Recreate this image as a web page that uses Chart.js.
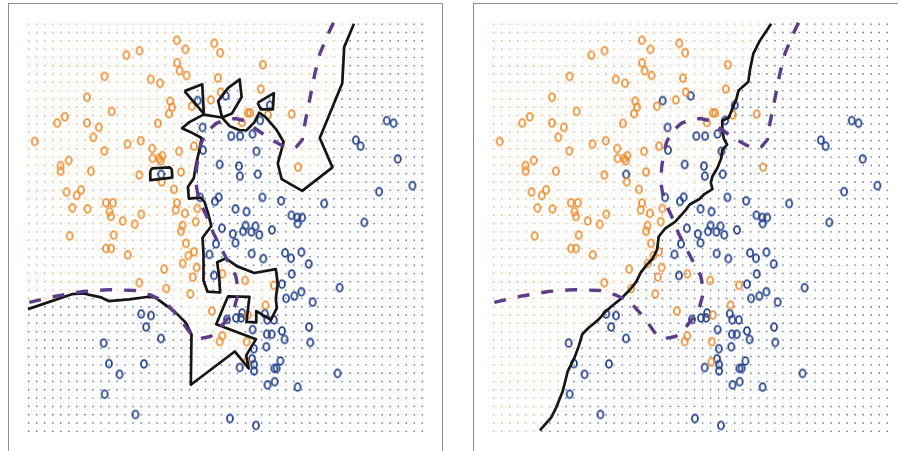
<!DOCTYPE html>
<html>
<head>
<meta charset="utf-8">
<script src="https://cdn.jsdelivr.net/npm/chart.js@4.4.0/dist/chart.umd.min.js"></script>
<style>
  html, body { margin: 0; padding: 0; background: #fff; overflow: hidden; }
  body { width: 898px; height: 451px; position: relative; }
  .panel { position: absolute; top: 3px; width: 433px; height: 449px; border: 1px solid #8c8c8c; }
  #panelLeft { left: 8px; }
  #panelRight { left: 473px; }
  canvas { position: absolute; left: 0; top: 0; }
</style>
</head>
<body>
<div class="panel" id="panelLeft"><canvas id="chartLeft" width="433" height="448"></canvas></div>
<div class="panel" id="panelRight"><canvas id="chartRight" width="433" height="448"></canvas></div>
<script>
// training observations (same in both panels)
const orangeX = [151.7,160.5,190,196,113.5,100,152,154.5,161.7,239.7,77.7,125,134.5,193.7,59.7,237.7,196.7,145,146.8,143.7,
  167,186.5,85,37,29.3,59.7,71.8,66.2,132.3,224.3,226.7,245,269.3,218.2,6.2,101.2,114.8,77.5,126.5,137,
  133.5,135.2,154,169.3,126.8,41,32.6,32.7,63.7,113.3,156,136.3,275.8,38.8,53.7,49.2,44.8,60.2,79,86.2,
  82.8,84.2,115.3,148.7,151.8,150.5,160,172.7,96.3,108.5,171,157.5,156,42,87,79.2,84.3,101.5,161,169.3,
  163.5,157.7,172,138.8,168,113.3,140.8,165.5,187.5,198.3,221.7,251.2,242.5,224.3,198.2,195.5,223.2,222.8];
const orangeY = [400,390.7,397,387.3,389.3,384.7,377,368.8,364,375,363,360,356,361.3,341.7,350,347,337.7,331.5,325,
  332.5,339,327.2,321.7,315.3,315.5,311,300.7,315,325.7,325.7,323.7,324.5,316,296.5,293.8,297.2,286.7,289.3,282,
  279.2,276.7,286.5,291.7,279.2,277.2,271.8,266,266,262.2,265.2,255.2,270.2,244.7,247,241.2,228.5,227.5,233.7,233.7,
  224.7,219.8,222,247.5,233.5,226.5,223,228,215.2,211.8,214.5,210.5,204.7,200,200.7,187,187,180.5,192.2,183.7,
  179.7,171.7,167.7,166,157.7,152,146,140.5,123,161.2,154.3,149.3,129,119,97.7,91.8,91.8,70.7];
const blueX = [173,201.7,246.8,178,237,207.5,216.5,229.2,178.5,233.2,195.5,215.2,216.2,234.5,135.7,366.5,373.5,335,339.8,377.8,
  392.8,358.7,302.5,258.5,239.3,175.5,194.5,190.7,211.8,223,269,275,280,275.3,343.6,222,232.2,197.8,209,219.5,
  228,236,249,211.7,185,191.8,228.3,240.2,262.5,268.5,279.2,286.7,189.7,269.3,259.3,263.5,272,279.2,290.7,318.3,
  203,212.3,217.5,218.5,241.7,244.3,251,229.3,243.8,248.8,259.3,262,287,288.3,230.5,243.3,228.7,230.8,230.8,216,
  257.7,251.5,253.8,244.5,251.8,275.3,316.2,206,232.7,115.2,125.2,120.3,135.5,76.8,82.2,93,118,77.8,109.3];
const blueY = [338.3,343.2,333.5,310.8,318,302,302,304.2,287.6,286.4,273,271.3,261,263,262.8,317.8,315.2,297.8,291.7,278.7,
  251.3,245.2,233,235.8,239.3,239.3,239.5,235.2,227.5,224.7,221,218.7,218.8,212.5,213.7,210.5,209.8,207.7,201.8,204.5,
  204,201,206,192.8,181,191.7,181.8,176.7,182.5,177,183.3,171.2,159.5,161,150.5,136,138.3,142.8,132.2,147,
  114.5,116,116,121,120.3,114,114,104,99.3,99.3,102.7,94,106.7,91,84.5,86.5,74.3,68.3,61.7,65.3,
  72,64.3,64.5,47.5,50.8,45.3,59.3,13.2,6,120,118.5,106.7,95,90.3,69.3,58.3,69,38,17.3];

// KNN K=1 boundary (left panel): main path and closed islands
const knn1Path = [[-0.7,125],[44.3,140.3],[56,141],[74.3,137],[82,133.3],[102.7,135],[122.7,137.7],[129.3,137],[149.3,122.7],[161,111],
  [166.7,99.3],[166,47.7],[211,81.7],[225.3,64.3],[222.7,77.7],[232.7,94.3],[192,109.5],[204,138],[226,137.5],[223,112],
  [233,111.5],[233,123],[248,114],[254,126],[253,136],[255,151],[253,166],[231,162],[213,169],[202,177],
  [193,173],[195,158],[196,142],[183,143],[179,154],[179,181],[178,198],[187,210],[184,222],[180,235],
  [176,239],[164,238],[163,250],[169,259],[171,271],[175,289],[177,300],[166,306],[157,310],[164,316],
  [179,324],[198,321],[206,312],[216,308],[223,308],[231,316],[236,326],[243,321],[254,308],[261,296],
  [255,274],[259,258],[280,246],[311,270],[298,300],[321,356],[323,393],[333,417]];
const knn1Tri = [[159.5,348],[177.7,355],[179.3,325],[159.5,348]];
const knn1Leaf = [[198,321],[194,338],[204,351],[216,360],[218,342],[208,325],[198,321]];
const knn1SmallTri = [[234.3,336],[251,346],[250,329.3],[237.7,329.3],[234.3,336]];
const knn1Box = [[124.5,266.5],[126.5,269],[144.5,270],[146.5,268],[147,259.5],[125,257],[124.5,266.5]];

// KNN K=100 boundary (right panel)
const knn100Path = [[284,417],[279,409.3],[272.3,399.3],[265.7,386],[262.3,369.3],[260.7,357.7],[250.7,348.7],[248.3,339.3],[244,329.3],[240.7,321],
  [234,317.7],[234,307.7],[235.7,299.3],[239,293.3],[234,287.7],[233,279.3],[229,269.3],[224,261],[222.3,254.3],[224,247.7],
  [215.7,242.7],[210.7,237.7],[200.7,232],[196.3,226],[185.7,214.3],[175.7,207.7],[169,199.3],[167.3,186],[162.3,176],[157.3,171],
  [150.7,162.7],[145.7,152.7],[139,144.3],[130.7,136],[122.3,129.3],[115.7,123.7],[107.3,114.3],[97.3,106],[90.7,99.3],[87.3,87.7],
  [82.3,74.3],[75.7,61],[70.7,41],[64,24.3],[59,14.3],[47.3,1]];

// Bayes decision boundary (both panels)
const bayesPath = [[312,418],[305,403],[298,386],[293,366],[289,346],[286,331],[283,316],[280,298],[274,291],[268,289],
  [258,293],[246,300],[233,309],[223,317],[212,320],[202,319],[192,315],[183,307],[177,296],[174,284],
  [172,270],[171,256],[173,243],[178,229],[184,216],[189,203],[196,189],[204,174],[212,159],[215,143],
  [211,128],[204,116],[195,104],[186,97],[176,95],[168,97],[160,108],[151,120],[139,133],[126,139],
  [109,144],[82,145],[56,143],[29,138.5],[-1,131.5]];

const gridCount = 50;
const gridWidth = 403;
const gridHeight = 416.5;

const orangeCol = '#ee9035';
const blueCol = '#24428c';

function inside(px, py, poly) {
  let c = false;
  for (let i = 0, j = poly.length - 1; i < poly.length; j = i++) {
    const xi = poly[i][0], yi = poly[i][1], xj = poly[j][0], yj = poly[j][1];
    if ((yi > py) !== (yj > py) && px < (xj - xi) * (py - yi) / (yj - yi) + xi) c = !c;
  }
  return c;
}

// open "o" marker, a little taller than wide like the original
function ring(color) {
  const c = document.createElement('canvas');
  c.width = 10; c.height = 12;
  const g = c.getContext('2d');
  g.strokeStyle = color;
  g.lineWidth = 1.8;
  g.beginPath();
  g.ellipse(5, 6, 3.0, 3.8, 0, 0, Math.PI * 2);
  g.stroke();
  return c;
}

// grid of predictions, coloured by which side of the boundary it falls on
function gridPoints(regions) {
  const o = [], b = [];
  for (let i = 0; i < gridCount; i++) {
    for (let j = 0; j < gridCount; j++) {
      const x = i * gridWidth / (gridCount - 1);
      const y = j * gridHeight / (gridCount - 1);
      let isOrange = false;
      regions.forEach(r => { if (inside(x, y, r)) isOrange = !isOrange; });
      (isOrange ? o : b).push({ x, y });
    }
  }
  return [o, b];
}

const toXY = (arr) => arr.map(p => ({ x: p[0], y: p[1] }));

function lineSet(path, color, width, dash) {
  return {
    data: toXY(path),
    showLine: true,
    borderColor: color,
    borderWidth: width,
    borderDash: dash || [],
    borderJoinStyle: 'round',
    pointRadius: 0,
    pointHitRadius: 0,
    fill: false,
    tension: 0,
    order: 0
  };
}

function makeChart(id, lines, regions) {
  const [gO, gB] = gridPoints(regions);
  const datasets = [];
  datasets.push(lineSet(bayesPath, '#5d3c89', 3.4, [12, 12]));
  lines.forEach(l => datasets.push(lineSet(l, '#151515', 2.7)));
  datasets.push({
    data: orangeX.map((x, i) => ({ x, y: orangeY[i] })),
    pointStyle: ring(orangeCol), pointRadius: 4, order: 1
  });
  datasets.push({
    data: blueX.map((x, i) => ({ x, y: blueY[i] })),
    pointStyle: ring(blueCol), pointRadius: 4, order: 1
  });
  datasets.push({ data: gO, pointStyle: 'rect', pointRadius: 1, borderWidth: 0, backgroundColor: '#f2a868', order: 2 });
  datasets.push({ data: gB, pointStyle: 'rect', pointRadius: 1, borderWidth: 0, backgroundColor: '#5b6da6', order: 2 });

  return new Chart(document.getElementById(id), {
    type: 'scatter',
    data: { datasets },
    options: {
      responsive: false,
      animation: false,
      events: [],
      layout: { padding: 0 },
      scales: {
        x: { type: 'linear', min: -15, max: 418, display: false },
        y: { type: 'linear', min: -16, max: 432, display: false }
      },
      plugins: { legend: { display: false }, tooltip: { enabled: false } }
    }
  });
}

// orange region: area above/left of the boundary, closed off outside the grid
const knn1Region = knn1Path.concat([[333,600],[-100,600],[-100,125]]);
const knn100Region = knn100Path.concat([[47.3,-100],[-100,-100],[-100,600],[284,600]]);

makeChart('chartLeft', [knn1Path, knn1Tri, knn1Leaf, knn1SmallTri, knn1Box],
  [knn1Region, knn1Tri, knn1Leaf, knn1SmallTri, knn1Box]);
makeChart('chartRight', [knn100Path], [knn100Region]);
</script>
</body>
</html>
